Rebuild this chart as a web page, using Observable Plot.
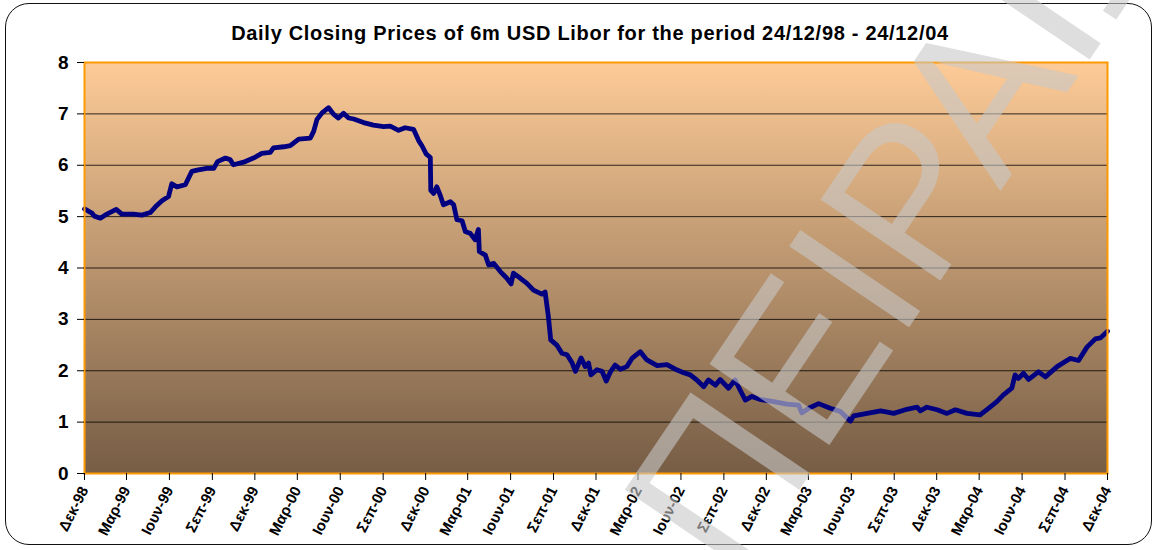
<!DOCTYPE html>
<html>
<head>
<meta charset="utf-8">
<script src="https://cdn.jsdelivr.net/npm/d3@7"></script>
<script src="https://cdn.jsdelivr.net/npm/@observablehq/plot@0.6"></script>
<style>
  html, body { margin: 0; padding: 0; background: #fff; }
  #wrap { position: relative; width: 1157px; height: 550px; overflow: hidden; font-family: "Liberation Sans", Arial, sans-serif; }
  #border { position: absolute; left: 5px; top: 3px; width: 1147px; height: 542px; border: 1.5px solid #111; border-radius: 24px; box-sizing: border-box; }
  #title { position: absolute; top: 23px; left: 590px; transform: translateX(-50%); white-space: nowrap; font-weight: bold; font-size: 20px; letter-spacing: 0.7px; line-height: 20px; color: #000; }
  #chart { position: absolute; left: 0; top: 0; }
  #wm { position: absolute; left: 0; top: 0; pointer-events: none; }
</style>
</head>
<body>
<div id="wrap">
  <div id="border"></div>
  <div id="title">Daily Closing Prices of 6m USD Libor for the period 24/12/98 - 24/12/04</div>
  <div id="chart"></div>
  <svg id="wm" width="1157" height="550">
    <text id="wmtext" font-family="'Liberation Sans', Arial, sans-serif" font-size="210" fill="rgb(200,200,200)" fill-opacity="0.6">ΠΕΙΡΑΙΩΣ</text>
  </svg>
</div>
<script>
// ---- data ----
const dates = [
  "1998-12-24","1999-01-09","1999-01-14","1999-01-27","1999-02-10","1999-03-02","1999-03-14","1999-04-08","1999-04-26","1999-05-14",
  "1999-05-25","1999-06-08","1999-06-22","1999-06-29","1999-07-10","1999-07-28","1999-08-11","1999-08-25","1999-09-12","1999-09-27",
  "1999-10-05","1999-10-22","1999-11-01","1999-11-08","1999-11-30","1999-12-21","2000-01-08","2000-01-26","2000-02-02","2000-02-24",
  "2000-03-09","2000-03-27","2000-04-21","2000-04-28","2000-05-05","2000-05-16","2000-05-30","2000-06-10","2000-06-20","2000-07-01",
  "2000-07-12","2000-07-23","2000-08-13","2000-09-03","2000-09-25","2000-10-09","2000-10-27","2000-11-10","2000-11-28","2000-12-09",
  "2000-12-16","2000-12-25","2001-01-03","2001-01-04","2001-01-10","2001-01-17","2001-01-24","2001-01-31","2001-02-15","2001-02-22",
  "2001-03-01","2001-03-12","2001-03-19","2001-03-30","2001-04-09","2001-04-16","2001-04-18","2001-05-01","2001-05-08","2001-05-19",
  "2001-06-02","2001-06-16","2001-06-25","2001-06-30","2001-07-15","2001-07-29","2001-08-12","2001-08-30","2001-09-06","2001-09-13",
  "2001-09-18","2001-10-01","2001-10-12","2001-10-23","2001-11-03","2001-11-10","2001-11-22","2001-12-01","2001-12-08","2001-12-13",
  "2001-12-26","2002-01-06","2002-01-15","2002-01-24","2002-02-03","2002-02-14","2002-02-28","2002-03-11","2002-03-29","2002-04-12",
  "2002-05-04","2002-05-25","2002-06-12","2002-06-30","2002-07-14","2002-07-28","2002-08-12","2002-08-22","2002-09-06","2002-09-16",
  "2002-10-04","2002-10-18","2002-10-29","2002-11-09","2002-11-23","2002-12-11","2003-01-09","2003-02-06","2003-03-03","2003-03-10",
  "2003-03-25","2003-04-15","2003-05-10","2003-05-31","2003-06-22","2003-06-29","2003-07-28","2003-08-26","2003-09-23","2003-10-21",
  "2003-11-12","2003-11-19","2003-12-03","2003-12-25","2004-01-15","2004-02-02","2004-02-27","2004-03-26","2004-04-13","2004-05-01",
  "2004-05-15","2004-06-02","2004-06-09","2004-06-16","2004-06-27","2004-07-08","2004-07-29","2004-08-13","2004-09-07","2004-10-05",
  "2004-10-23","2004-11-10","2004-11-28","2004-12-09","2004-12-24"
];
const rates = [
  5.15,5.07,5.01,4.97,5.05,5.14,5.05,5.05,5.03,5.08,
  5.19,5.31,5.39,5.64,5.58,5.62,5.88,5.91,5.94,5.94,
  6.07,6.14,6.11,6.01,6.06,6.14,6.23,6.25,6.34,6.36,
  6.38,6.51,6.53,6.66,6.89,7.02,7.12,6.99,6.92,7.01,
  6.92,6.90,6.83,6.78,6.75,6.76,6.68,6.73,6.70,6.48,
  6.38,6.22,6.15,5.51,5.45,5.58,5.42,5.23,5.29,5.23,
  4.94,4.92,4.71,4.67,4.55,4.75,4.32,4.25,4.06,4.09,
  3.93,3.80,3.69,3.90,3.80,3.70,3.57,3.49,3.53,3.05,
  2.60,2.50,2.34,2.31,2.15,1.99,2.25,2.08,2.15,1.92,
  2.02,1.99,1.80,1.98,2.11,2.03,2.08,2.24,2.37,2.21,
  2.10,2.12,2.03,1.96,1.92,1.82,1.69,1.82,1.72,1.83,
  1.66,1.82,1.62,1.43,1.50,1.44,1.40,1.35,1.33,1.18,
  1.27,1.36,1.27,1.21,1.02,1.12,1.17,1.22,1.17,1.25,
  1.29,1.22,1.29,1.24,1.17,1.24,1.17,1.14,1.27,1.40,
  1.53,1.66,1.92,1.85,1.95,1.83,1.98,1.88,2.08,2.24,
  2.20,2.46,2.62,2.64,2.77
];
const tickDates = [
  "1998-12-24","1999-03-24","1999-06-24","1999-09-24","1999-12-24","2000-03-24","2000-06-24","2000-09-24","2000-12-24",
  "2001-03-24","2001-06-24","2001-09-24","2001-12-24","2002-03-24","2002-06-24","2002-09-24","2002-12-24",
  "2003-03-24","2003-06-24","2003-09-24","2003-12-24","2004-03-24","2004-06-24","2004-09-24","2004-12-24"
];
const tickLabels = [
  "Δεκ-98","Μαρ-99","Ιουν-99","Σεπ-99","Δεκ-99","Μαρ-00","Ιουν-00","Σεπ-00","Δεκ-00",
  "Μαρ-01","Ιουν-01","Σεπ-01","Δεκ-01","Μαρ-02","Ιουν-02","Σεπ-02","Δεκ-02",
  "Μαρ-03","Ιουν-03","Σεπ-03","Δεκ-03","Μαρ-04","Ιουν-04","Σεπ-04","Δεκ-04"
];
const yTicks = [0,1,2,3,4,5,6,7,8];
const gridLines = [1,2,3,4,5,6,7];

// ---- build ----
const parse = d3.utcParse("%Y-%m-%d");
const series = dates.map((d, i) => ({date: parse(d), value: rates[i]}));
const ticks = tickDates.map(parse);
const labelMap = new Map(ticks.map((t, i) => [+t, tickLabels[i]]));

const chart = Plot.plot({
  width: 1157,
  height: 550,
  marginLeft: 84,
  marginRight: 50,
  marginTop: 62,
  marginBottom: 77,
  style: {fontFamily: "'Liberation Sans', Arial, sans-serif", background: "transparent", color: "#000", overflow: "visible"},
  x: {type: "utc", domain: [ticks[0], ticks[ticks.length - 1]]},
  y: {domain: [0, 8]},
  marks: [
    Plot.frame({fill: "url(#bgGrad)"}),
    Plot.ruleY(gridLines, {stroke: "#000", strokeWidth: 1, strokeOpacity: 0.8}),
    Plot.line(series, {x: "date", y: "value", stroke: "#000080", strokeWidth: 4.8, strokeLinejoin: "round", strokeLinecap: "round"}),
    Plot.frame({stroke: "#FF9900", strokeWidth: 2}),
    Plot.axisY({ticks: yTicks, tickSize: 7, tickPadding: 9, fontSize: 19, fontWeight: "bold", label: null, tickFormat: d => String(d)}),
    Plot.axisX({ticks: ticks, tickSize: 7, tickPadding: 7, tickRotate: -63, fontSize: 15, fontWeight: "bold", label: null, tickFormat: d => labelMap.get(+d)})
  ]
});

const svg = d3.select(chart);
const grad = svg.insert("defs", ":first-child").append("linearGradient")
  .attr("id", "bgGrad").attr("x1", 0).attr("y1", 0).attr("x2", 0).attr("y2", 1);
grad.append("stop").attr("offset", "0%").attr("stop-color", "#FDCB97");
grad.append("stop").attr("offset", "100%").attr("stop-color", "#765D45");

document.getElementById("chart").appendChild(chart);

// watermark placement
const wx = 735, wy = 585, wa = -56;
const wt = document.getElementById("wmtext");
wt.setAttribute("x", wx);
wt.setAttribute("y", wy);
wt.setAttribute("transform", `rotate(${wa} ${wx} ${wy})`);
</script>
</body>
</html>
